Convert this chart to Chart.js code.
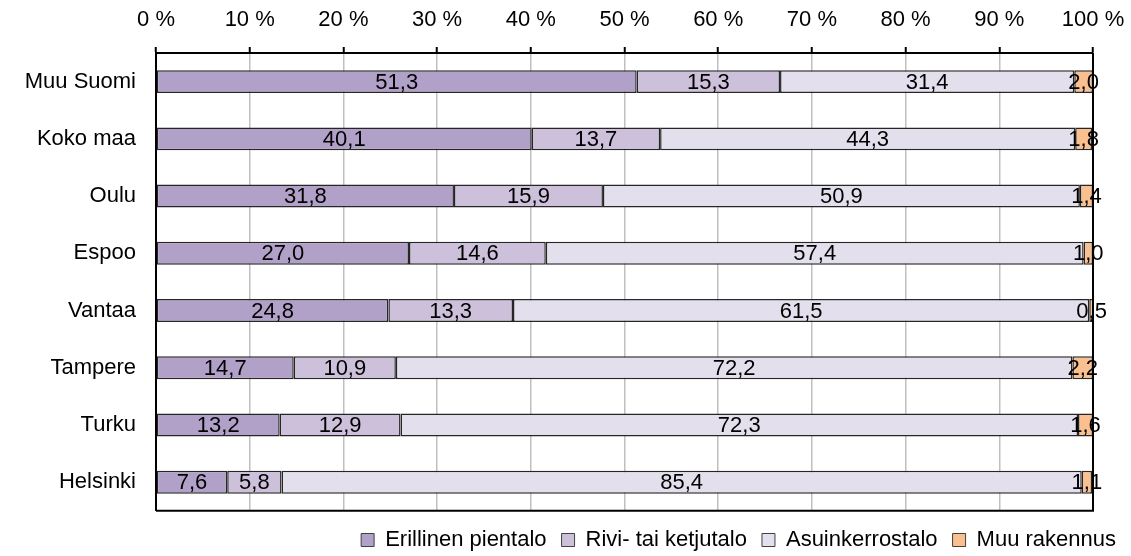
<!DOCTYPE html>
<html>
<head>
<meta charset="utf-8">
<script src="https://cdn.jsdelivr.net/npm/chart.js@4/dist/chart.umd.min.js"></script>
<style>
  html, body { margin: 0; padding: 0; background: #fff; }
  #wrap { width: 1131px; height: 556px; }
</style>
</head>
<body>
<div id="wrap"><canvas id="housingChart" width="1131" height="556"></canvas></div>
<script>
// Data
const regions = ['Muu Suomi', 'Koko maa', 'Oulu', 'Espoo', 'Vantaa', 'Tampere', 'Turku', 'Helsinki'];
const erillinen = [51.3, 40.1, 31.8, 27.0, 24.8, 14.7, 13.2, 7.6];
const rivitalo = [15.3, 13.7, 15.9, 14.6, 13.3, 10.9, 12.9, 5.8];
const kerrostalo = [31.4, 44.3, 50.9, 57.4, 61.5, 72.2, 72.3, 85.4];
const muu = [2.0, 1.8, 1.4, 1.0, 0.5, 2.2, 1.6, 1.1];
const seriesNames = ['Erillinen pientalo', 'Rivi- tai ketjutalo', 'Asuinkerrostalo', 'Muu rakennus'];
const percentTicks = [0, 10, 20, 30, 40, 50, 60, 70, 80, 90, 100];

Chart.defaults.font.family = '"Liberation Sans", Arial, sans-serif';
Chart.defaults.font.size = 22;
Chart.defaults.color = '#000';

// values centred in each segment, Finnish decimal comma
const valueLabels = {
  id: 'valueLabels',
  afterDatasetsDraw(chart) {
    const ctx = chart.ctx;
    ctx.save();
    ctx.font = '22px "Liberation Sans", Arial, sans-serif';
    ctx.fillStyle = '#000';
    ctx.textAlign = 'center';
    ctx.textBaseline = 'middle';
    chart.data.datasets.forEach((ds, i) => {
      chart.getDatasetMeta(i).data.forEach((bar, j) => {
        const txt = ds.data[j].toFixed(1).replace('.', ',');
        ctx.fillText(txt, (bar.x + bar.base) / 2, bar.y + 1);
      });
    });
    ctx.restore();
  }
};

// right and bottom edges of the plot box
const plotFrame = {
  id: 'plotFrame',
  afterDraw(chart) {
    const a = chart.chartArea;
    const ctx = chart.ctx;
    ctx.save();
    ctx.strokeStyle = '#000';
    ctx.lineWidth = 2;
    ctx.beginPath();
    ctx.moveTo(a.left, a.bottom);
    ctx.lineTo(a.right, a.bottom);
    ctx.lineTo(a.right, a.top);
    ctx.stroke();
    ctx.restore();
  }
};

const colors = ['#B1A0C7', '#CCC0DA', '#E4DFEC', '#FAC090'];
const values = [erillinen, rivitalo, kerrostalo, muu];

const ctxBar = document.getElementById('housingChart').getContext('2d');
const housingChart = new Chart(ctxBar, {
  type: 'bar',
  data: {
    labels: regions,
    datasets: seriesNames.map((name, i) => ({
      label: name,
      data: values[i],
      backgroundColor: colors[i],
      borderColor: '#262626',
      borderWidth: 1.5,
      borderSkipped: false,
      barPercentage: 0.4,
      categoryPercentage: 1
    }))
  },
  options: {
    indexAxis: 'y',
    responsive: false,
    animation: false,
    layout: { padding: { top: 0, left: 0, right: 0, bottom: -5 } },
    scales: {
      x: {
        position: 'top',
        stacked: true,
        min: 0,
        max: 100,
        afterBuildTicks: axis => { axis.ticks = percentTicks.map(v => ({ value: v })); },
        ticks: {
          callback: v => v + ' %',
          padding: 14,
          maxRotation: 0
        },
        grid: {
          color: '#C0C0C0',
          lineWidth: 1.5,
          tickColor: '#000',
          tickLength: 6,
          tickWidth: 2
        },
        border: { color: '#000', width: 2 },
        afterFit: s => {
          s.height = 53;
          s.paddingLeft = 0;
          s.paddingRight = 0;
        }
      },
      y: {
        stacked: true,
        grid: { display: false },
        border: { color: '#000', width: 2 },
        ticks: { padding: 12 },
        afterFit: s => { s.width = 156; }
      },
      yRight: {
        position: 'right',
        display: true,
        grid: { display: false },
        border: { display: false },
        ticks: { display: false },
        afterFit: s => { s.width = 38; }
      }
    },
    plugins: {
      legend: {
        position: 'bottom',
        align: 'end',
        title: { display: true, text: '', font: { size: 1 }, padding: { top: 2, bottom: 0 } },
        labels: {
          boxWidth: 13,
          boxHeight: 13,
          padding: 15,
          font: { size: 22 },
          generateLabels: chart => chart.data.datasets.map((ds, i) => ({
            text: ds.label,
            fillStyle: ds.backgroundColor,
            strokeStyle: '#404040',
            lineWidth: 1,
            datasetIndex: i
          }))
        }
      },
      tooltip: { enabled: false }
    }
  },
  plugins: [valueLabels, plotFrame]
});
</script>
</body>
</html>
